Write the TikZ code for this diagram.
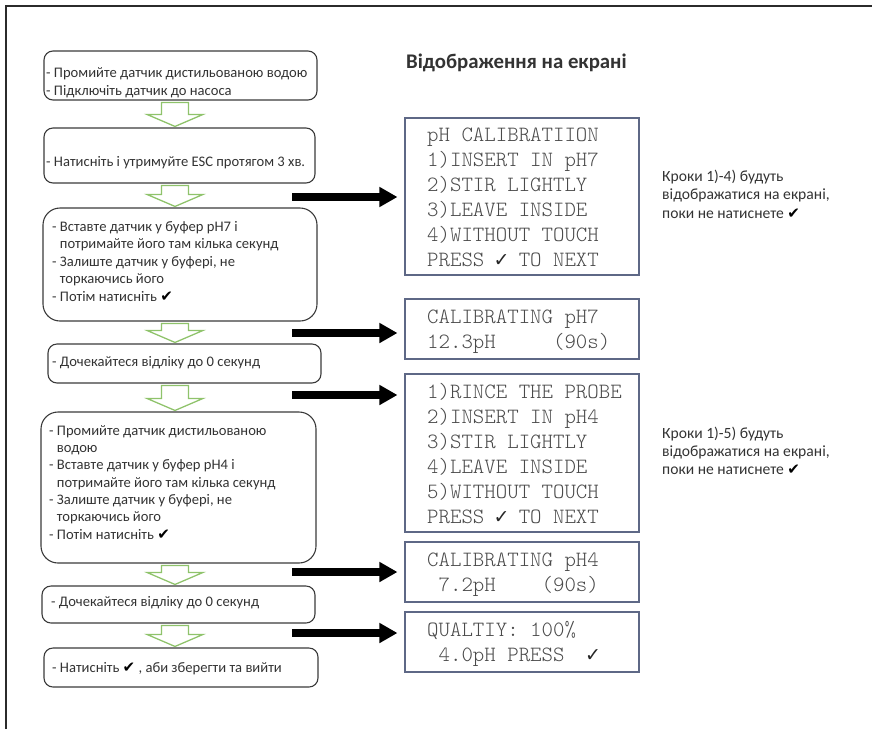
\documentclass[tikz,border=0pt]{standalone}
\usepackage{fontspec}
\setmainfont{Carlito}
\newfontfamily\symfont{DejaVu Sans}
\newfontfamily\lcdfont{lmmonolt10-regular.otf}
\usetikzlibrary{arrows.meta,calc}

\definecolor{frameclr}{HTML}{2B2B2B}
\definecolor{stepline}{HTML}{3A3A3A}
\definecolor{steptext}{HTML}{333333}
\definecolor{flowgreen}{HTML}{8FC36B}
\definecolor{lcdline}{HTML}{5E6886}
\definecolor{lcdtext}{HTML}{4A4A4A}

% heavy tick used in the instructions, thin tick used on the display
\newcommand\heavycheck{{\color{black}\symfont\fontsize{15}{15}\selectfont ✔}}
\newcommand\lcdcheck{\makebox[0.525em]{\color{black!85}\symfont\fontsize{19}{19}\selectfont ✓}}
\newcommand\hang{\hphantom{- }}

% hollow green block arrow from one step box down to the next
\newcommand\flowdown[2]{%
  \draw[flow] let \p1=(#1.south), \p2=(#2.north) in
    (161.5pt,\y1-2pt) -- (188.5pt,\y1-2pt) -- (188.5pt,\y2+13pt) --
    (203pt,\y2+13pt) -- (175pt,\y2+1pt) -- (147pt,\y2+13pt) --
    (161.5pt,\y2+13pt) -- cycle;}

\begin{document}
\begin{tikzpicture}[x=1pt,y=-1pt,
  stepbox/.style={draw=stepline, line width=1.1pt, rounded corners=9pt,
    inner sep=0pt},
  bigstep/.style={stepbox, rounded corners=17pt},
  steptxt/.style={anchor=base west, inner sep=0pt, align=left,
    text=steptext, font=\fontsize{14.6}{17.5}\selectfont},
  lcdbox/.style={draw=lcdline, line width=1.1pt, inner sep=0pt,
    minimum width=234pt},
  lcdtxt/.style={anchor=base west, inner sep=0pt, align=left,
    text=lcdtext, font=\lcdfont\fontsize{21.8}{25}\selectfont},
  notetxt/.style={anchor=base west, inner sep=0pt, align=left,
    text=steptext, font=\fontsize{15.6}{18.2}\selectfont},
  flow/.style={draw=flowgreen, line width=1.3pt, fill=white,
    line join=miter},
  push/.style={line width=8pt, -{Triangle[length=18pt,width=19pt]},
    shorten >=7pt}
]
\useasboundingbox (0,0) rectangle (872,729);

% outer frame
\draw[frameclr, line width=1.6pt] (6,729) -- (6,6) -- (872,6);

% step boxes
\node[stepbox, minimum width=273pt, minimum height=49pt] (b1) at (180.5,75.5) {};
\node[stepbox, minimum width=271pt, minimum height=55pt] (b2) at (179.5,155.5) {};
\node[bigstep, minimum width=274pt, minimum height=113pt] (b3) at (180,264.5) {};
\node[stepbox, minimum width=273pt, minimum height=39pt] (b4) at (184.5,363.5) {};
\node[bigstep, minimum width=275pt, minimum height=151pt] (b5) at (178.5,487.5) {};
\node[stepbox, minimum width=273pt, minimum height=37pt] (b6) at (178.5,604.5) {};
\node[stepbox, minimum width=274pt, minimum height=39pt] (b7) at (181,667.5) {};

% step texts (anchored at the baseline of their last line)
\node[steptxt, font=\fontsize{14.6}{18}\selectfont] (t1) at (46,95) {- Промийте датчик дистильованою водою\\- Підключіть датчик до насоса};
\node[steptxt] (t2) at (46,166) {- Натисніть і утримуйте ESC протягом 3 хв.};
\node[steptxt] (t3) at (52,301) {- Вставте датчик у буфер pH7 і\\\hang потримайте його там кілька секунд\\- Залиште датчик у буфері, не\\\hang торкаючись його\\- Потім натисніть \heavycheck};
\node[steptxt] (t4) at (52,366) {- Дочекайтеся відліку до 0 секунд};
\node[steptxt, font=\fontsize{14.6}{17.3}\selectfont] (t5) at (49,539) {- Промийте датчик дистильованою\\\hang водою\\- Вставте датчик у буфер pH4 і\\\hang потримайте його там кілька секунд\\- Залиште датчик у буфері, не\\\hang торкаючись його\\- Потім натисніть \heavycheck};
\node[steptxt] (t6) at (51,606) {- Дочекайтеся відліку до 0 секунд};
\node[steptxt] (t7) at (52,672) {- Натисніть \heavycheck\ , аби зберегти та вийти};

% green flow arrows
\flowdown{b1}{b2}
\flowdown{b2}{b3}
\flowdown{b3}{b4}
\flowdown{b4}{b5}
\flowdown{b5}{b6}
\flowdown{b6}{b7}

% heading
\node[anchor=base west, inner sep=0pt, text=steptext,
  font=\bfseries\fontsize{20.8}{24}\selectfont] (title) at (406,68) {Відображення на екрані};

% display screens
\node[lcdbox, minimum height=157pt] (dA) at (522,196.5) {};
\node[lcdbox, minimum height=60pt] (dB) at (522,329) {};
\node[lcdbox, minimum height=158pt] (dC) at (522,453) {};
\node[lcdbox, minimum height=60pt] (dD) at (522,572) {};
\node[lcdbox, minimum height=60pt] (dE) at (522,642) {};

\node[lcdtxt] (sA) at (427,266) {pH CALIBRATIION\\1)INSERT IN pH7\\2)STIR LIGHTLY\\3)LEAVE INSIDE\\4)WITHOUT TOUCH\\PRESS \lcdcheck{} TO NEXT};
\node[lcdtxt] (sB) at (427,348) {CALIBRATING pH7\\12.3pH\ \ \ \ \ (90s)};
\node[lcdtxt] (sC) at (427,523) {1)RINCE THE PROBE\\2)INSERT IN pH4\\3)STIR LIGHTLY\\4)LEAVE INSIDE\\5)WITHOUT TOUCH\\PRESS \lcdcheck{} TO NEXT};
\node[lcdtxt] (sD) at (427,591) {CALIBRATING pH4\\\ 7.2pH\ \ \ \ (90s)};
\node[lcdtxt] (sE) at (427,661) {QUALTIY: 100\%\\\ 4.0pH PRESS\ \ \lcdcheck};

% side notes
\node[notetxt] (n1) at (662,218) {Кроки 1)-4) будуть\\відображатися на екрані,\\поки не натиснете \heavycheck};
\node[notetxt, font=\fontsize{15.6}{17.8}\selectfont] (n2) at (662,474) {Кроки 1)-5) будуть\\відображатися на екрані,\\поки не натиснете \heavycheck};

% black arrows from the steps to the screens
\coordinate (p1) at (292,197);
\coordinate (p2) at (292,333);
\coordinate (p3) at (292,395);
\coordinate (p4) at (292,572);
\coordinate (p5) at (292,633);
\draw[push] (p1) -- (p1 -| dA.west);
\draw[push] (p2) -- (p2 -| dB.west);
\draw[push] (p3) -- (p3 -| dC.west);
\draw[push] (p4) -- (p4 -| dD.west);
\draw[push] (p5) -- (p5 -| dE.west);
\end{tikzpicture}
\end{document}
